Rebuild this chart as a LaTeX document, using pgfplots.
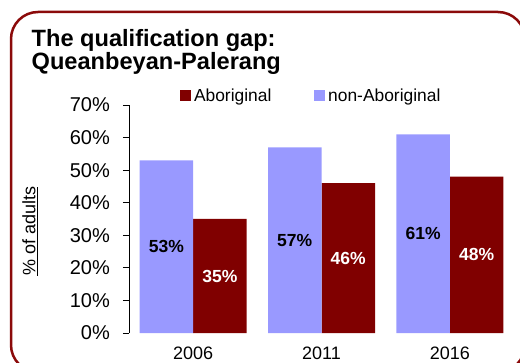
\documentclass[border=0pt]{standalone}
\usepackage{fontspec}
\setmainfont{Liberation Sans}
\usepackage{pgfplots}
\pgfplotsset{compat=1.18}
\definecolor{aborig}{HTML}{800000}
\definecolor{nonab}{HTML}{9999FF}
\definecolor{framered}{HTML}{8B0A0A}

\pgfplotsset{
  sqlegend/.style={legend image code/.code={\fill[##1] (0pt,-5.5pt) rectangle (11pt,5.5pt); \path (12.8pt,0pt);}},
}

\begin{document}
\begin{tikzpicture}[x=1pt,y=1pt]
\useasboundingbox (0,0) rectangle (520,362);
% rounded frame, running off the right and bottom edges
\begin{scope}
  \clip (0,0) rectangle (520,362);
  \draw[framered, line width=2.5pt, rounded corners=27pt] (11,-10) rectangle (525,350);
\end{scope}

% title
\node[anchor=base west, inner sep=0pt, font=\fontsize{23.6}{27}\selectfont\bfseries] at (31.5,315) {The qualification gap:};
\node[anchor=base west, inner sep=0pt, font=\fontsize{23.6}{27}\selectfont\bfseries] at (31.5,292) {Queanbeyan-Palerang};

\begin{axis}[
  at={(129pt,29pt)}, anchor=south west,
  scale only axis, width=385pt, height=228pt,
  xmin=-0.5, xmax=2.5, ymin=0, ymax=70,
  ybar=0pt, bar width=53.5pt,
  axis y line*=left, axis x line*=bottom,
  axis line style={-, black, line width=0.8pt},
  x axis line style={draw=none},
  xtick={0,1,2}, xticklabels={2006,2011,2016},
  ytick={0,10,...,70},
  yticklabel={\pgfmathprintnumber{\tick}\%},
  /pgf/number format/assume math mode=true,
  tick align=outside, major tick length=6pt,
  xtick style={draw=none},
  ytick style={black, line width=0.8pt},
  xticklabel style={font=\fontsize{18}{20}\selectfont, anchor=north, inner sep=0pt, yshift=-7.5pt},
  yticklabel style={font=\fontsize{20}{22}\selectfont, anchor=east, inner sep=0pt, xshift=-13pt},
  ylabel={\underline{\% of adults}},
  ylabel style={font=\fontsize{18}{20}\selectfont, at={(axis description cs:-0.257,0.447)}, anchor=center},
  legend style={at={(axis description cs:0.132,1.0395)}, anchor=west, draw=none, fill=none,
    inner sep=0pt, nodes={inner sep=1.2pt, text depth=0.15em},
    font=\fontsize{17.4}{20}\selectfont, legend columns=2,
    /tikz/every even column/.append style={column sep=41.6pt}},
  visualization depends on={rawy \as \rawy},
  nodes near coords={\pgfmathprintnumber{\pgfplotspointmeta}\%},
  nodes near coords style={anchor=center, yshift={-1.628571*\rawy},
    font=\fontsize{17.5}{20}\selectfont\bfseries},
]
% Aboriginal (right bar of each pair)
\addplot[fill=aborig, draw=none, bar shift=26.75pt, sqlegend,
  every node near coord/.append style={white}]
  coordinates {(0,35) (1,46) (2,48)};
\addlegendentry{Aboriginal}
% non-Aboriginal (left bar of each pair)
\addplot[fill=nonab, draw=none, bar shift=-26.75pt, sqlegend,
  every node near coord/.append style={black}]
  coordinates {(0,53) (1,57) (2,61)};
\addlegendentry{non-Aboriginal}
\end{axis}
\end{tikzpicture}
\end{document}
